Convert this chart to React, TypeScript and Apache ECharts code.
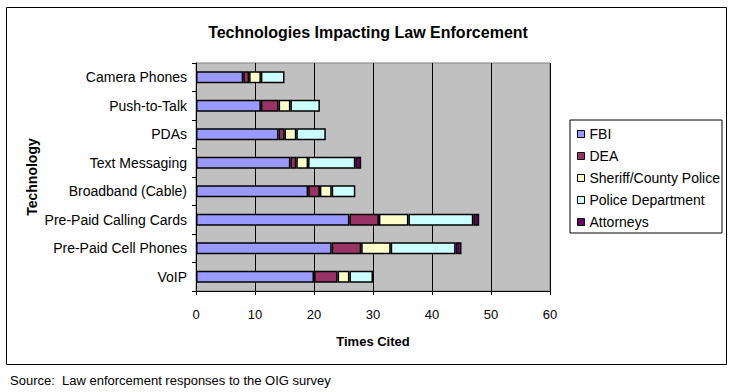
import React, { useEffect, useRef } from "react";
import * as echarts from "echarts";

const categories = [
  "Camera Phones",
  "Push-to-Talk",
  "PDAs",
  "Text Messaging",
  "Broadband (Cable)",
  "Pre-Paid Calling Cards",
  "Pre-Paid Cell Phones",
  "VoIP",
];
const seriesNames = ["FBI", "DEA", "Sheriff/County Police", "Police Department", "Attorneys"];
const fbi = [8, 11, 14, 16, 19, 26, 23, 20];
const dea = [1, 3, 1, 1, 2, 5, 5, 4];
const sheriff = [2, 2, 2, 2, 2, 5, 5, 2];
const policeDept = [4, 5, 5, 8, 4, 11, 11, 4];
const attorneys = [0, 0, 0, 1, 0, 1, 1, 0];
const xTicks = [0, 10, 20, 30, 40, 50, 60];
const colors = ["#9999FF", "#993366", "#FFFFCC", "#CCFFFF", "#660066"];

export default function App() {
  const ref = useRef<HTMLDivElement>(null);
  useEffect(() => {
    if (!ref.current) return;
    const chart = echarts.init(ref.current, null, { renderer: "svg" });
    const values = [fbi, dea, sheriff, policeDept, attorneys];
    const font = "'Liberation Sans', Arial, sans-serif";
    chart.setOption({
      animation: false,
      textStyle: { fontFamily: font },
      title: {
        text: "Technologies Impacting Law Enforcement",
        left: 363,
        top: 19,
        textAlign: "center",
        textStyle: { fontSize: 16, fontWeight: "bold", color: "#000", fontFamily: font },
      },
      legend: {
        orient: "vertical",
        left: 570,
        top: 120,
        data: seriesNames,
        backgroundColor: "#fff",
        borderColor: "#000",
        borderWidth: 1,
        padding: [7, 2, 4, 7],
        itemWidth: 7,
        itemHeight: 7,
        itemGap: 8,
        icon: "rect",
        itemStyle: { borderColor: "#000", borderWidth: 1 },
        textStyle: { fontSize: 14, color: "#000", fontFamily: font, lineHeight: 14 },
      },
      grid: {
        left: 196,
        right: 182,
        top: 63,
        bottom: 101,
        show: true,
        backgroundColor: "#C0C0C0",
        borderColor: "#808080",
        borderWidth: 1,
      },
      xAxis: {
        type: "value",
        min: xTicks[0],
        max: xTicks[xTicks.length - 1],
        interval: 10,
        name: "Times Cited",
        nameLocation: "middle",
        nameGap: 44,
        nameTextStyle: { fontSize: 13, fontWeight: "bold", color: "#000", fontFamily: font },
        axisLine: { show: true, lineStyle: { color: "#000", width: 1 } },
        axisTick: { show: true, length: 4, lineStyle: { color: "#000" } },
        axisLabel: { fontSize: 13, color: "#000", margin: 17, fontFamily: font },
        splitLine: { show: true, lineStyle: { color: "#000", width: 1 } },
      },
      yAxis: {
        type: "category",
        inverse: true,
        data: categories,
        name: "Technology",
        nameLocation: "middle",
        nameGap: 157,
        nameTextStyle: { fontSize: 14, fontWeight: "bold", color: "#000", fontFamily: font },
        axisLine: { show: true, lineStyle: { color: "#000", width: 1 } },
        axisTick: { show: true, length: 4, interval: 0, lineStyle: { color: "#000" } },
        axisLabel: { fontSize: 14, color: "#000", margin: 9, fontFamily: font },
        splitLine: { show: false },
      },
      series: seriesNames.map((name, i) => ({
        name,
        type: "bar",
        stack: "total",
        barWidth: 12,
        data: values[i].map((v) => (v === 0 ? "-" : v)),
        itemStyle: { color: colors[i], borderColor: "#000", borderWidth: 1.5 },
      })),
      graphic: [
        {
          type: "rect",
          shape: { x: 6.5, y: 7.5, width: 720, height: 357 },
          style: { fill: "none", stroke: "#000", lineWidth: 1 },
          silent: true,
          z: -1,
        },
        {
          type: "text",
          x: 10,
          y: 374,
          style: {
            text: "Source:  Law enforcement responses to the OIG survey",
            fontSize: 13,
            fontFamily: font,
            fill: "#000",
          },
        },
      ],
    });
    return () => chart.dispose();
  }, []);
  return (
    <div
      ref={ref}
      style={{ position: "fixed", left: 0, top: 0, width: 732, height: 392, background: "#fff" }}
    />
  );
}
